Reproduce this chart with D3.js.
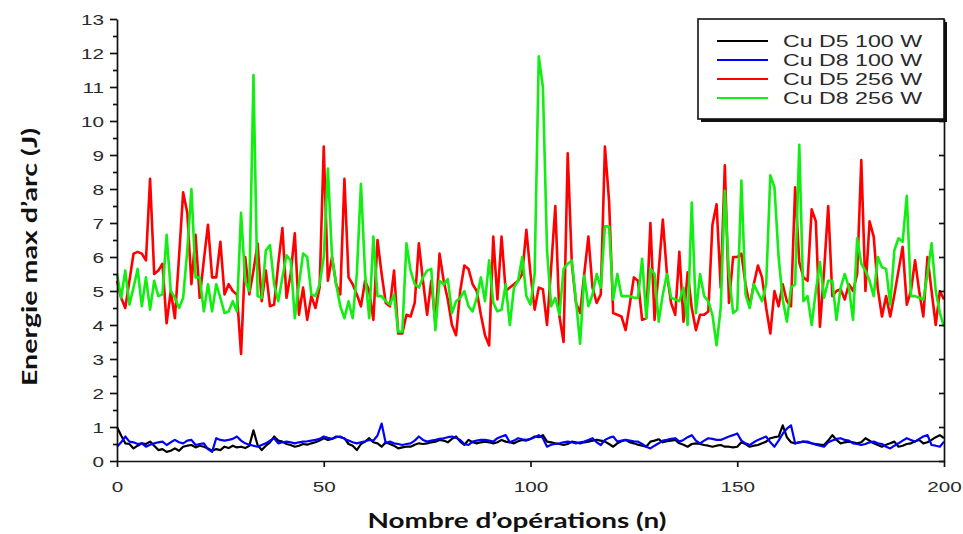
<!DOCTYPE html>
<html>
<head>
<meta charset="utf-8">
<script src="https://d3js.org/d3.v7.min.js"></script>
<style>
    body { margin: 0; background: #fff; }
    text { font-family: "Liberation Sans", Arial, sans-serif; }
</style>
</head>
<body>
<script>
    // n = 0..200, one value per operation
    var cuD5_100 = [1.0,0.75,0.52,0.5,0.37,0.45,0.52,0.5,0.57,0.45,0.32,0.35,0.27,0.3,0.37,0.3,0.42,0.45,0.47,0.4,
        0.45,0.42,0.37,0.3,0.35,0.32,0.42,0.38,0.45,0.4,0.42,0.38,0.45,0.9,0.47,0.32,0.45,0.55,0.72,0.6,
        0.57,0.5,0.47,0.42,0.45,0.5,0.48,0.52,0.55,0.6,0.67,0.62,0.65,0.72,0.7,0.67,0.5,0.45,0.32,0.5,
        0.57,0.67,0.55,0.52,0.42,0.55,0.5,0.45,0.37,0.4,0.42,0.42,0.48,0.52,0.5,0.52,0.55,0.57,0.62,0.6,
        0.55,0.65,0.72,0.57,0.47,0.62,0.55,0.52,0.55,0.57,0.55,0.52,0.55,0.62,0.57,0.55,0.52,0.58,0.62,0.6,
        0.65,0.72,0.7,0.76,0.57,0.55,0.52,0.5,0.47,0.5,0.57,0.55,0.52,0.55,0.57,0.6,0.62,0.6,0.57,0.5,
        0.42,0.52,0.58,0.62,0.55,0.52,0.48,0.45,0.42,0.57,0.6,0.64,0.55,0.58,0.6,0.62,0.52,0.48,0.42,0.5,
        0.52,0.5,0.47,0.45,0.42,0.45,0.47,0.42,0.42,0.4,0.42,0.55,0.5,0.42,0.45,0.47,0.52,0.57,0.67,0.7,
        0.72,1.05,0.7,0.55,0.52,0.55,0.57,0.55,0.52,0.5,0.48,0.47,0.6,0.76,0.62,0.52,0.55,0.57,0.55,0.52,
        0.55,0.67,0.6,0.52,0.47,0.42,0.48,0.52,0.57,0.42,0.45,0.5,0.52,0.58,0.62,0.52,0.55,0.62,0.7,0.76,
        0.67];
    var cuD8_100 = [0.42,0.55,0.72,0.57,0.55,0.5,0.52,0.42,0.48,0.52,0.55,0.57,0.47,0.55,0.62,0.55,0.52,0.6,0.62,0.47,
        0.5,0.52,0.35,0.27,0.67,0.62,0.6,0.62,0.65,0.72,0.6,0.52,0.48,0.45,0.42,0.47,0.52,0.6,0.67,0.52,
        0.55,0.57,0.55,0.52,0.55,0.57,0.58,0.6,0.62,0.65,0.72,0.68,0.65,0.7,0.72,0.65,0.6,0.55,0.52,0.55,
        0.58,0.62,0.6,0.75,1.1,0.52,0.57,0.52,0.5,0.47,0.5,0.52,0.6,0.72,0.62,0.57,0.6,0.62,0.65,0.67,
        0.7,0.72,0.68,0.62,0.5,0.47,0.57,0.6,0.62,0.62,0.6,0.57,0.67,0.72,0.76,0.55,0.6,0.67,0.64,0.62,
        0.65,0.7,0.76,0.67,0.42,0.48,0.5,0.52,0.55,0.57,0.55,0.52,0.55,0.57,0.62,0.67,0.55,0.47,0.62,0.68,
        0.72,0.57,0.6,0.62,0.6,0.58,0.57,0.5,0.42,0.37,0.45,0.52,0.6,0.62,0.65,0.67,0.57,0.62,0.7,0.76,
        0.6,0.52,0.6,0.67,0.65,0.62,0.62,0.67,0.72,0.76,0.81,0.6,0.52,0.47,0.55,0.62,0.67,0.72,0.55,0.42,
        0.6,0.8,0.95,1.05,0.52,0.55,0.57,0.57,0.52,0.48,0.45,0.42,0.55,0.6,0.65,0.67,0.62,0.6,0.52,0.5,
        0.47,0.5,0.55,0.57,0.52,0.5,0.42,0.37,0.45,0.52,0.6,0.67,0.62,0.57,0.65,0.72,0.76,0.47,0.45,0.42,
        0.57];
    var cuD5_256 = [5.3,4.8,4.5,5.3,6.1,6.15,6.1,5.9,8.3,5.5,5.6,5.8,4.05,5.0,4.2,6.0,7.9,7.3,5.2,6.65,
        4.8,5.9,6.95,5.4,5.4,6.45,4.9,5.2,5.0,4.9,3.15,6.0,4.9,5.6,6.4,4.7,5.6,4.55,4.6,5.8,
        6.85,4.8,5.5,6.7,4.3,5.1,4.15,4.85,4.5,5.1,9.25,5.3,6.0,5.2,4.9,8.3,5.4,5.2,4.9,4.55,
        5.3,5.0,4.15,6.5,5.5,4.65,4.55,5.6,3.75,3.75,4.3,4.25,4.65,6.4,5.3,4.3,5.3,4.05,6.1,5.3,
        4.75,4.0,3.7,5.0,5.75,5.65,5.2,5.0,4.3,3.7,3.4,6.6,4.75,6.6,5.0,5.1,5.2,5.3,5.5,6.8,
        5.5,4.45,5.1,5.05,4.0,5.7,7.5,4.25,3.5,9.05,5.8,4.65,4.35,5.5,6.6,5.1,4.65,4.9,9.25,7.65,
        4.35,4.3,4.25,3.85,4.6,5.4,5.3,4.15,4.2,7.0,4.15,5.6,7.1,5.5,4.65,4.3,6.15,4.1,5.55,4.5,
        3.85,4.3,4.3,4.4,6.95,7.55,5.1,8.7,4.65,6.0,6.0,6.1,5.2,4.55,5.2,5.75,5.4,4.5,3.75,5.0,
        4.55,5.2,4.7,4.55,8.05,5.85,5.4,5.3,7.4,7.05,3.95,5.6,7.5,4.85,5.0,5.05,4.75,5.2,5.0,5.5,
        8.85,5.0,7.05,6.6,5.05,4.25,4.85,4.25,4.9,5.6,6.3,4.6,5.0,5.9,5.0,4.25,6.0,5.0,4.0,5.0,
        4.75];
    var cuD8_256 = [5.5,4.8,5.6,4.6,5.1,5.65,4.55,5.4,4.45,5.3,4.85,4.9,6.65,5.0,4.8,4.5,4.8,6.2,8.0,5.4,
        5.4,4.4,5.2,4.4,5.2,4.8,4.35,4.4,4.7,4.4,7.3,5.3,5.0,11.35,4.85,4.8,6.2,6.35,5.2,4.7,
        5.4,6.05,5.9,4.2,5.2,6.1,6.0,4.9,4.85,5.2,6.0,8.6,6.0,5.2,4.55,4.2,4.7,4.2,5.5,8.15,
        5.5,4.2,6.6,4.85,4.85,4.7,4.6,4.9,3.8,3.8,6.4,5.6,5.2,5.1,5.4,5.6,5.65,3.85,5.3,5.2,
        5.35,4.35,4.7,4.8,5.0,4.55,4.4,4.8,5.4,4.7,5.9,4.65,4.4,4.45,5.2,4.0,5.1,5.3,6.0,4.85,
        4.6,5.5,11.9,11.0,6.2,4.55,4.8,4.3,5.65,5.8,5.9,4.7,3.45,5.45,4.55,4.9,5.5,5.1,6.9,6.9,
        4.75,5.5,4.85,4.85,4.85,4.8,4.8,5.95,4.2,5.65,5.5,4.1,4.9,5.5,4.8,4.75,4.7,5.1,4.0,7.6,
        4.35,5.5,4.85,4.7,4.3,3.4,4.5,7.95,5.5,4.35,4.45,8.25,4.9,4.5,5.2,4.95,4.7,5.2,8.4,8.05,
        6.0,4.75,4.1,5.1,5.2,9.3,4.7,4.85,4.0,5.0,5.85,4.8,5.3,5.3,4.15,5.1,5.5,5.1,4.15,6.55,
        5.8,5.6,5.3,4.85,6.0,5.7,5.65,4.6,6.2,6.55,6.45,7.8,4.85,4.85,4.8,4.75,5.5,6.4,5.0,4.35,
        3.95];

    var seriesNames = ["Cu D5 100 W", "Cu D8 100 W", "Cu D5 256 W", "Cu D8 256 W"];
    var seriesColors = ["#000000", "#0000ff", "#ff0000", "#11ee11"];
    var xTicks = [0, 50, 100, 150, 200];
    var yTicks = [0, 1, 2, 3, 4, 5, 6, 7, 8, 9, 10, 11, 12, 13];
    var yMinor = [0.5, 1.5, 2.5, 3.5, 4.5, 5.5, 6.5, 7.5, 8.5, 9.5, 10.5, 11.5, 12.5];

    var allSeries = [cuD5_100, cuD8_100, cuD5_256, cuD8_256];

    var wid = 963, hei = 534;
    var pLeft = 117, pRight = 944, pTop = 19, pBottom = 461;
    var sx = 1.38;   // picture is stretched sideways

    var svg = d3.select("body").append("svg")
        .attr("width", wid)
        .attr("height", hei);

    var x = d3.scaleLinear().domain([0, 200]).range([pLeft, pRight]);
    var y = d3.scaleLinear().domain([0, 13]).range([pBottom, pTop]);

    // lines
    var line = d3.line()
        .x(function(d, i) { return x(i); })
        .y(function(d) { return y(d); });

    svg.selectAll("path.series")
        .data(allSeries)
        .enter()
        .append("path")
        .attr("class", "series")
        .attr("d", line)
        .attr("fill", "none")
        .attr("stroke", function(d, i) { return seriesColors[i]; })
        .attr("stroke-width", function(d, i) { return i < 2 ? 2.2 : 2.6; })
        .attr("stroke-linejoin", "round");

    // left axis
    var yAxis = svg.append("g")
        .attr("transform", "translate(" + pLeft + ",0)")
        .call(d3.axisLeft(y).tickValues(yTicks).tickSize(7).tickSizeOuter(0));
    svg.append("g")
        .attr("transform", "translate(" + pLeft + ",0)")
        .call(d3.axisLeft(y).tickValues(yMinor).tickSize(4).tickFormat("").tickSizeOuter(0))
        .select(".domain").remove();
    yAxis.selectAll("text")
        .attr("x", -13 / sx)
        .attr("dy", "0.36em")
        .attr("transform", "scale(" + sx + ",1)")
        .style("font-size", "15px")
        .style("fill", "#2a2a2a");

    // bottom axis
    var xAxis = svg.append("g")
        .attr("transform", "translate(0," + pBottom + ")")
        .call(d3.axisBottom(x).tickValues(xTicks).tickSize(6).tickSizeOuter(0));
    xAxis.selectAll("text")
        .attr("y", 20)
        .attr("x", 0)
        .attr("transform", "scale(" + sx + ",1)")
        .style("font-size", "15px")
        .style("fill", "#2a2a2a");

    // right axis with inward ticks
    svg.append("g")
        .attr("transform", "translate(" + pRight + ",0)")
        .call(d3.axisRight(y).tickValues(yTicks).tickSize(-5).tickFormat("").tickSizeOuter(0));

    svg.selectAll(".domain, .tick line")
        .attr("stroke", "#111")
        .attr("stroke-width", 1.7);

    // legend
    var lg = svg.append("g");
    lg.append("rect")
        .attr("x", 701).attr("y", 22)
        .attr("width", 246).attr("height", 100)
        .attr("fill", "#111");
    lg.append("rect")
        .attr("x", 698).attr("y", 19)
        .attr("width", 246).attr("height", 100)
        .attr("fill", "#fff")
        .attr("stroke", "#111")
        .attr("stroke-width", 1.6);

    var items = lg.selectAll("g.item")
        .data(seriesNames)
        .enter()
        .append("g")
        .attr("class", "item")
        .attr("transform", function(d, i) { return "translate(0," + (41 + i * 19) + ")"; });
    items.append("line")
        .attr("x1", 717).attr("x2", 768)
        .attr("stroke", function(d, i) { return seriesColors[i]; })
        .attr("stroke-width", 1.8);
    items.append("text")
        .attr("x", 783)
        .attr("dy", "0.36em")
        .attr("textLength", 139)
        .attr("lengthAdjust", "spacingAndGlyphs")
        .style("font-size", "17px")
        .style("fill", "#2a2a2a")
        .text(function(d) { return d; });

    // axis titles
    svg.append("text")
        .attr("x", 517).attr("y", 528)
        .attr("text-anchor", "middle")
        .attr("textLength", 299)
        .attr("lengthAdjust", "spacingAndGlyphs")
        .style("font-family", "Lato, 'Open Sans', sans-serif")
        .style("font-weight", "bold")
        .style("font-size", "21px")
        .style("fill", "#111")
        .text("Nombre d\u2019op\u00e9rations (n)");

    svg.append("text")
        .attr("transform", "translate(37,257) rotate(-90)")
        .attr("text-anchor", "middle")
        .attr("textLength", 258)
        .attr("lengthAdjust", "spacingAndGlyphs")
        .style("font-family", "Lato, 'Open Sans', sans-serif")
        .style("font-weight", "bold")
        .style("font-size", "21px")
        .style("fill", "#111")
        .text("Energie max d\u2019arc (J)");
</script>
</body>
</html>
